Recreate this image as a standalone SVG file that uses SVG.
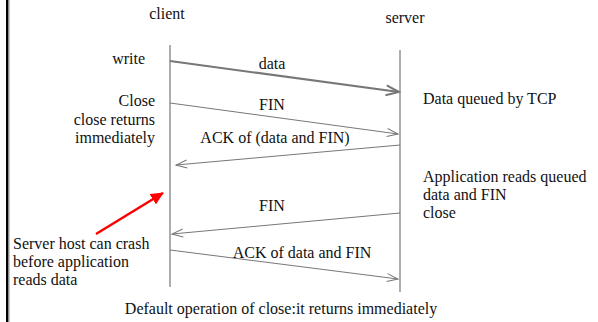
<svg xmlns="http://www.w3.org/2000/svg" width="598" height="322" viewBox="0 0 598 322">
<style>
.life{stroke:#777;stroke-width:1.2;fill:none}
.msg{stroke:#777;stroke-width:1;fill:none;marker-end:url(#open)}
.msgb{stroke:#777;stroke-width:2;fill:none;marker-end:url(#openb)}
</style>
<defs>
<marker id="open" markerWidth="14" markerHeight="10" refX="12" refY="5" orient="auto" markerUnits="userSpaceOnUse">
<path d="M1,1 L12,5 L1,9" fill="none" stroke="#777" stroke-width="1"/>
</marker>
<marker id="openb" markerWidth="16" markerHeight="12" refX="14" refY="6" orient="auto" markerUnits="userSpaceOnUse">
<path d="M1,1 L14,6 L1,11" fill="none" stroke="#777" stroke-width="2"/>
</marker>
<marker id="red" markerWidth="14" markerHeight="12" refX="12" refY="6" orient="auto" markerUnits="userSpaceOnUse">
<path d="M0,0 L13,6 L0,12 Z" fill="#f00"/>
</marker>
</defs>
<rect x="6" y="0" width="2.5" height="322" fill="#000"/>
<rect x="8.5" y="0" width="1" height="322" fill="#999"/>
<g id="client">
<text style="font-family:'Liberation Serif',serif;font-size:16px;fill:#111;text-anchor:middle" x="167" y="19">client</text>
<line class="life" x1="170" y1="45" x2="170" y2="287"/>
</g>
<g id="server">
<text style="font-family:'Liberation Serif',serif;font-size:16px;fill:#111;text-anchor:middle" x="405" y="23">server</text>
<line class="life" x1="400" y1="50" x2="400" y2="292"/>
</g>
<g id="connectors">
<line class="msgb" x1="170" y1="61" x2="399" y2="92"/>
<line class="msg" x1="170" y1="103" x2="398" y2="134"/>
<line class="msg" x1="400" y1="145" x2="176" y2="165"/>
<line class="msg" x1="400" y1="213" x2="172" y2="234"/>
<line class="msg" x1="170" y1="250" x2="398" y2="279"/>
<line x1="96" y1="234" x2="163" y2="193" stroke="#f00" stroke-width="2.5" marker-end="url(#red)"/>
</g>
<g id="labels">
<text style="font-family:'Liberation Serif',serif;font-size:16px;fill:#111;text-anchor:end" x="145" y="64">write</text>
<text style="font-family:'Liberation Serif',serif;font-size:16px;fill:#111;text-anchor:end" x="155" y="106">Close</text>
<text style="font-family:'Liberation Serif',serif;font-size:16px;fill:#111;text-anchor:end" x="155" y="125">close returns</text>
<text style="font-family:'Liberation Serif',serif;font-size:16px;fill:#111;text-anchor:end" x="155" y="143">immediately</text>
<text style="font-family:'Liberation Serif',serif;font-size:16px;fill:#111;text-anchor:middle" x="272" y="69">data</text>
<text style="font-family:'Liberation Serif',serif;font-size:16px;fill:#111;text-anchor:middle" x="272" y="110">FIN</text>
<text style="font-family:'Liberation Serif',serif;font-size:16px;fill:#111;text-anchor:middle" x="275" y="143">ACK of (data and FIN)</text>
<text style="font-family:'Liberation Serif',serif;font-size:16px;fill:#111;text-anchor:middle" x="272" y="211">FIN</text>
<text style="font-family:'Liberation Serif',serif;font-size:16px;fill:#111;text-anchor:middle" x="302" y="258">ACK of data and FIN</text>
<text style="font-family:'Liberation Serif',serif;font-size:16px;fill:#111" x="423" y="104">Data queued by TCP</text>
<text style="font-family:'Liberation Serif',serif;font-size:16px;fill:#111" x="423" y="182">Application reads queued</text>
<text style="font-family:'Liberation Serif',serif;font-size:16px;fill:#111" x="423" y="200">data and FIN</text>
<text style="font-family:'Liberation Serif',serif;font-size:16px;fill:#111" x="423" y="218">close</text>
<text style="font-family:'Liberation Serif',serif;font-size:16px;fill:#111" x="13" y="249">Server host can crash</text>
<text style="font-family:'Liberation Serif',serif;font-size:16px;fill:#111" x="13" y="267">before application</text>
<text style="font-family:'Liberation Serif',serif;font-size:16px;fill:#111" x="13" y="285">reads data</text>
<text style="font-family:'Liberation Serif',serif;font-size:16px;fill:#111;text-anchor:middle" x="281" y="314">Default operation of close:it returns immediately</text>
</g>
</svg>
